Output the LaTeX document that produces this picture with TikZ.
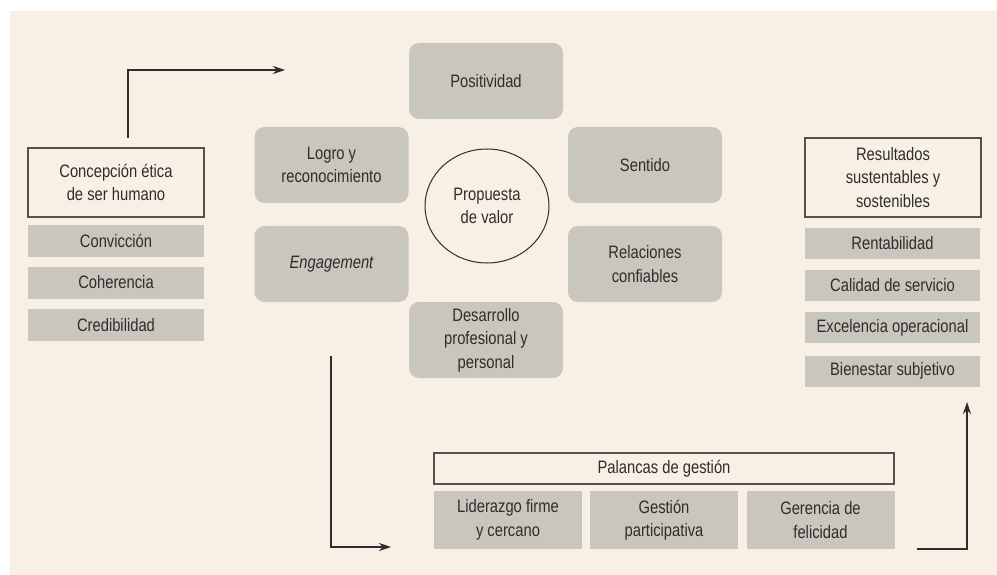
\documentclass[tikz,border=0pt]{standalone}
\usepackage{fontspec}
\setmainfont{Liberation Sans}[FakeStretch=0.82]
\usetikzlibrary{arrows.meta,shapes.geometric}
\definecolor{Crema}{RGB}{248,240,228}
\definecolor{Caja}{RGB}{201,198,190}
\definecolor{Tinta}{RGB}{45,45,45}
\definecolor{Borde}{RGB}{85,80,75}

\begin{document}
\begin{tikzpicture}[x=1pt,y=-1pt,
    every node/.style={font=\fontsize{18}{23.5}\selectfont, text=Tinta, align=center, inner sep=0pt},
    caja/.style={fill=Caja, minimum width=176, minimum height=32},
    marco/.style={draw=Borde, line width=1.2pt, minimum width=176},
    valor/.style={fill=Caja, rounded corners=10pt, minimum width=154, minimum height=76},
    flecha/.style={draw=Tinta, line width=1.2pt, -{Stealth[length=12pt,width=8pt]}}]
    \useasboundingbox (0,0) rectangle (997,575);
    \fill[white] (0,0) rectangle (997,575);
    \fill[Crema] (10,11) rectangle (997,575);

%   izquierda
    \node[marco, minimum height=69] (etica) at (116,182.5) {Concepción ética\\de ser humano};
    \node[caja] (conviccion) at (116,241) {Convicción};
    \node[caja] (coherencia) at (116,282.5) {Coherencia};
    \node[caja] (credibilidad) at (116,325) {Credibilidad};

%   propuesta de valor
    \node[ellipse, draw=Tinta, line width=1pt, minimum width=124, minimum height=114] (propuesta) at (487,206) {Propuesta\\de valor};
    \node[valor] (positividad) at (486,81) {Positividad};
    \node[valor] (logro) at (331.5,165) {Logro y\\reconocimiento};
    \node[valor] (sentido) at (645,165) {Sentido};
    \node[valor] (engagement) at (331.5,264) {\itshape Engagement};
    \node[valor] (relaciones) at (645,264) {Relaciones\\confiables};
    \node[valor] (desarrollo) at (486,340) {Desarrollo\\profesional y\\personal};

%   derecha
    \node[marco, minimum height=79] (resultados) at (893,177.5) {Resultados\\sustentables y\\sostenibles};
    \node[caja, minimum width=175, minimum height=31] (rentabilidad) at (892.5,243.5) {Rentabilidad};
    \node[caja, minimum width=175, minimum height=31] (calidad) at (892.5,285) {Calidad de servicio};
    \node[caja, minimum width=175, minimum height=31] (excelencia) at (892.5,327.5) {Excelencia operacional};
    \node[caja, minimum width=175, minimum height=31] (bienestar) at (892.5,371) {Bienestar subjetivo};

%   palancas
    \node[marco, minimum width=460, minimum height=31] (palancas) at (664,468.5) {Palancas de gestión};
    \node[caja, minimum width=148, minimum height=58] (liderazgo) at (508,520) {Liderazgo firme\\y cercano};
    \node[caja, minimum width=148, minimum height=58] (gestion) at (664,520) {Gestión\\participativa};
    \node[caja, minimum width=148, minimum height=58] (gerencia) at (820.5,520) {Gerencia de\\felicidad};

%   flechas
    \coordinate (a1) at (128,138);
    \coordinate (a1fin) at (285,70);
    \coordinate (a2) at (331,356);
    \coordinate (a2fin) at (391,547);
    \coordinate (a3) at (917,549);
    \coordinate (a3fin) at (967,402);
    \draw[flecha] (a1) |- (a1fin);
    \draw[flecha] (a2) |- (a2fin);
    \draw[flecha] (a3) -| (a3fin);
\end{tikzpicture}
\end{document}
